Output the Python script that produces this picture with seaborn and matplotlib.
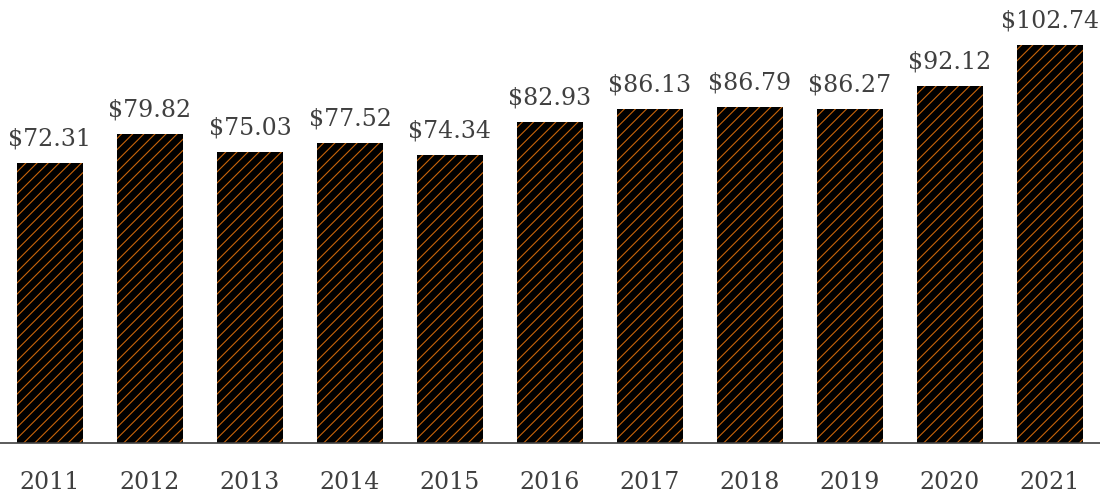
import matplotlib
matplotlib.use("Agg")
import matplotlib.pyplot as plt
import seaborn as sns
import pandas as pd

years = ["2011", "2012", "2013", "2014", "2015", "2016", "2017", "2018", "2019", "2020", "2021"]
prices = [72.31, 79.82, 75.03, 77.52, 74.34, 82.93, 86.13, 86.79, 86.27, 92.12, 102.74]

df = pd.DataFrame({"year": years, "price": prices})

sns.set_style("white")
plt.rcParams["font.family"] = ["DejaVu Serif"]
plt.rcParams["hatch.color"] = "#c8640a"
plt.rcParams["hatch.linewidth"] = 0.8

fig = plt.figure(figsize=(11, 4.97), dpi=100)
ax = fig.add_axes([0.0, 0.1087, 1.0, 0.8913])

sns.barplot(data=df, x="year", y="price", color="black", width=0.66, ax=ax)
for p in ax.patches:
    p.set_facecolor("black")
    p.set_hatch("///")
    p.set_edgecolor("#c8640a")
    p.set_linewidth(0)

ax.bar_label(ax.containers[0], labels=[f"${v:.2f}" for v in prices],
             padding=9, fontsize=17, color="#404040")

ax.set_ylim(0, 114.4)
ax.set_xlim(-0.5, 10.5)
ax.set_xlabel("")
ax.set_ylabel("")
ax.set_yticks([])
for s in ["top", "right", "left"]:
    ax.spines[s].set_visible(False)
ax.spines["bottom"].set_color("#404040")
ax.spines["bottom"].set_linewidth(1.2)
ax.tick_params(axis="x", length=0, pad=20, labelsize=17, labelcolor="#404040")

fig.savefig("out.png", dpi=100)
